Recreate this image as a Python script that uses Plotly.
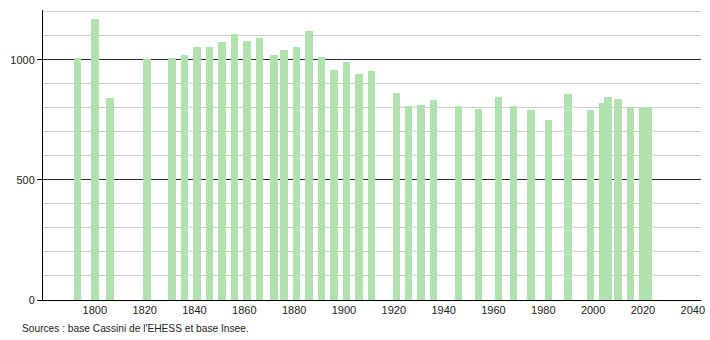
import plotly.graph_objects as go

years = [1793, 1800, 1806, 1821, 1831, 1836, 1841, 1846, 1851, 1856,
         1861, 1866, 1872, 1876, 1881, 1886, 1891, 1896, 1901, 1906,
         1911, 1921, 1926, 1931, 1936, 1946, 1954, 1962, 1968, 1975,
         1982, 1990, 1999, 2004, 2006, 2010, 2015, 2020, 2022]
population = [1010, 1171, 843, 1003, 1010, 1021, 1053, 1053, 1075, 1108,
              1079, 1092, 1021, 1042, 1054, 1121, 1012, 958, 992, 942,
              954, 861, 808, 812, 833, 808, 797, 846, 808, 792,
              750, 858, 792, 819, 846, 837, 803, 803, 803]
x_ticks = list(range(1800, 2041, 20))
y_ticks = [0, 500, 1000]
source_text = "Sources : base Cassini de l'EHESS et base Insee."

fig = go.Figure()
fig.add_trace(go.Bar(
    x=years, y=population, width=3,
    marker=dict(color="#b0e2b0", line=dict(width=0)),
    hoverinfo="x+y",
))

fig.update_layout(
    width=710, height=340,
    margin=dict(l=43, r=5, t=10, b=40),
    paper_bgcolor="white", plot_bgcolor="white",
    showlegend=False,
    font=dict(family="Liberation Sans, Arial, sans-serif", size=11, color="#222"),
    bargap=0,
    xaxis=dict(
        range=[1779.2, 2043.3],
        tickmode="array", tickvals=x_ticks, ticktext=[str(v) for v in x_ticks],
        showgrid=False, zeroline=False,
        showline=True, linecolor="#000", linewidth=1,
        ticks="", tickfont=dict(size=11, color="#222"),
    ),
    yaxis=dict(
        range=[0, 1208],
        tickmode="array", tickvals=y_ticks, ticktext=[str(v) for v in y_ticks],
        showgrid=True, gridcolor="#2a2a2a", gridwidth=1,
        zeroline=False,
        showline=True, linecolor="#000", linewidth=1,
        ticks="outside", ticklen=5, tickcolor="#000",
        tickfont=dict(size=11, color="#222"),
        minor=dict(dtick=100, tick0=0, showgrid=True, gridcolor="#cccccc", gridwidth=1),
    ),
    annotations=[dict(
        text=source_text, xref="paper", yref="paper",
        x=-0.035, y=-0.097, xanchor="left", yanchor="middle",
        showarrow=False, font=dict(size=10.2, color="#222"),
    )],
)

fig.write_html("out.html")
